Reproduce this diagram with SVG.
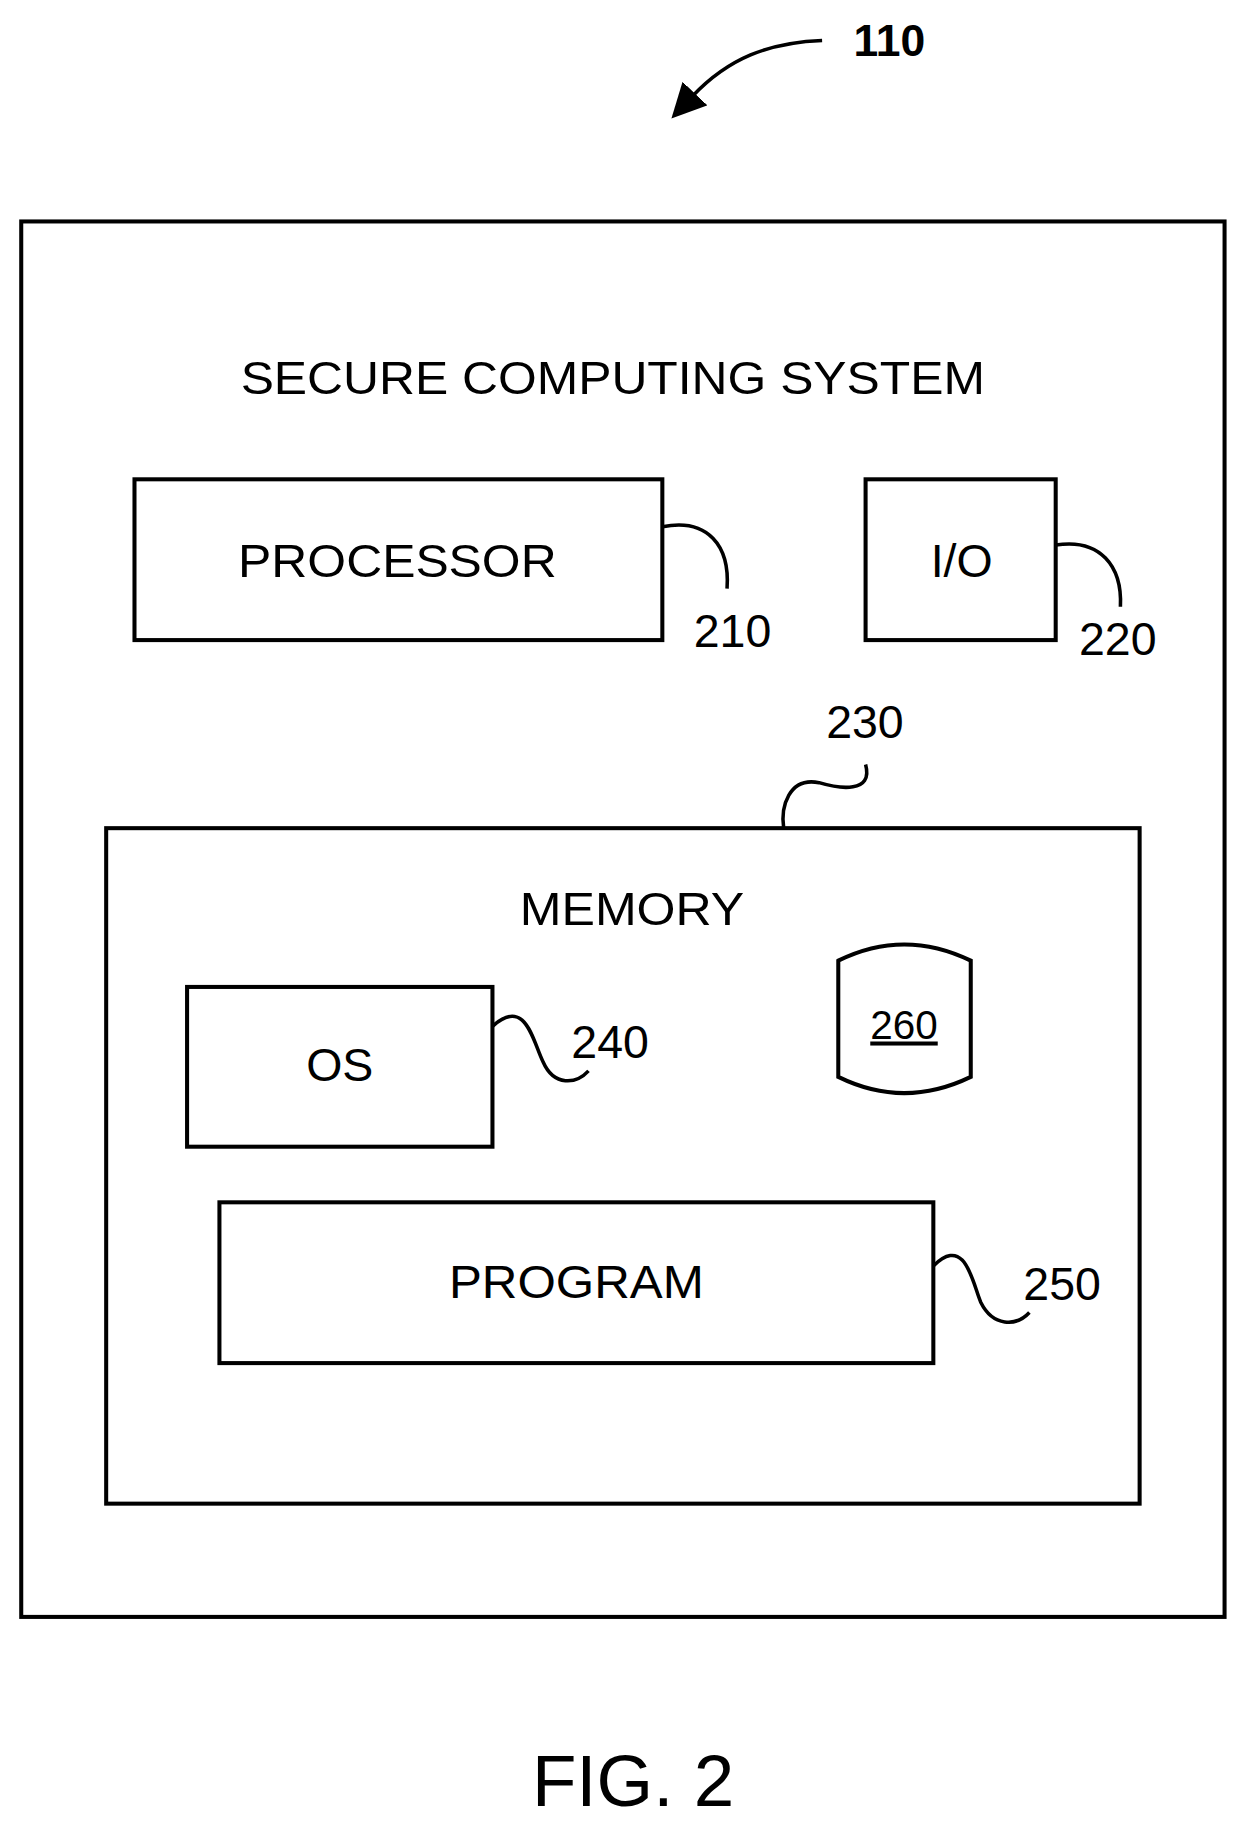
<svg xmlns="http://www.w3.org/2000/svg" width="1246" height="1828" viewBox="0 0 1246 1828">
<style>
.b{fill:none;stroke:#000;stroke-width:4}
.l{fill:none;stroke:#000;stroke-width:3.5}
text{font-family:"Liberation Sans",Arial,sans-serif;font-size:46px;fill:#000}
.c{text-anchor:middle}
</style>
<defs>
<marker id="ah2" viewBox="0 0 10 10" refX="1" refY="5" markerWidth="34" markerHeight="34" markerUnits="userSpaceOnUse" orient="auto"><path d="M0,0 L10,5 L0,10 Z" fill="#000"/></marker></defs>
<g transform="scale(1.0112)">
<g id="ref110">
<text x="844" y="55" style="font-weight:bold;font-size:44px">110</text>
</g>
<g id="system"><rect class="b" x="21" y="219" width="1190" height="1380"/>
<text class="c" x="606" y="390" textLength="736" lengthAdjust="spacingAndGlyphs">SECURE COMPUTING SYSTEM</text></g>
<g id="processor"><rect class="b" x="133" y="474" width="522" height="159"/>
<text class="c" x="393" y="571" textLength="315" lengthAdjust="spacingAndGlyphs">PROCESSOR</text>
<text x="686" y="640">210</text></g>
<g id="io"><rect class="b" x="856" y="474" width="188" height="159"/>
<text class="c" x="951" y="571">I/O</text>
<text x="1067" y="648">220</text></g>
<g id="memory"><rect class="b" x="105" y="819" width="1022" height="668"/>
<text class="c" x="625" y="915" textLength="222" lengthAdjust="spacingAndGlyphs">MEMORY</text>
<text x="817" y="730">230</text></g>
<g id="os"><rect class="b" x="185" y="976" width="302" height="158"/>
<text class="c" x="336" y="1069">OS</text>
<text x="565" y="1046">240</text></g>
<g id="store260"><path class="b" d="M829,950 Q894,918 960,950 L960,1065 Q894,1097 829,1065 Z"/>
<text class="c" x="894" y="1027" style="font-size:40px;text-decoration:underline">260</text></g>
<g id="program"><rect class="b" x="217" y="1189" width="706" height="159"/>
<text class="c" x="570" y="1284" textLength="252" lengthAdjust="spacingAndGlyphs">PROGRAM</text>
<text x="1012" y="1286">250</text></g>
<g id="fig"><text class="c" x="626" y="1786" style="font-size:72px">FIG. 2</text></g>
<g id="connectors">
<path class="l" d="M813,40 C760,42 720,58 685,95" marker-end="url(#ah2)"/>
<path class="l" d="M655,521 C700,512 722,540 719,582"/>
<path class="l" d="M1044,539 C1088,532 1110,560 1108,600"/>
<path class="l" d="M856,756 C864,785 830,780 810,774 C780,768 772,798 775,819"/>
<path class="l" d="M487,1015 C520,985 527,1030 537,1050 C548,1075 570,1072 582,1059"/>
<path class="l" d="M923,1252 C955,1220 962,1270 970,1288 C982,1312 1005,1312 1018,1298"/>
</g>
</g>
</svg>
